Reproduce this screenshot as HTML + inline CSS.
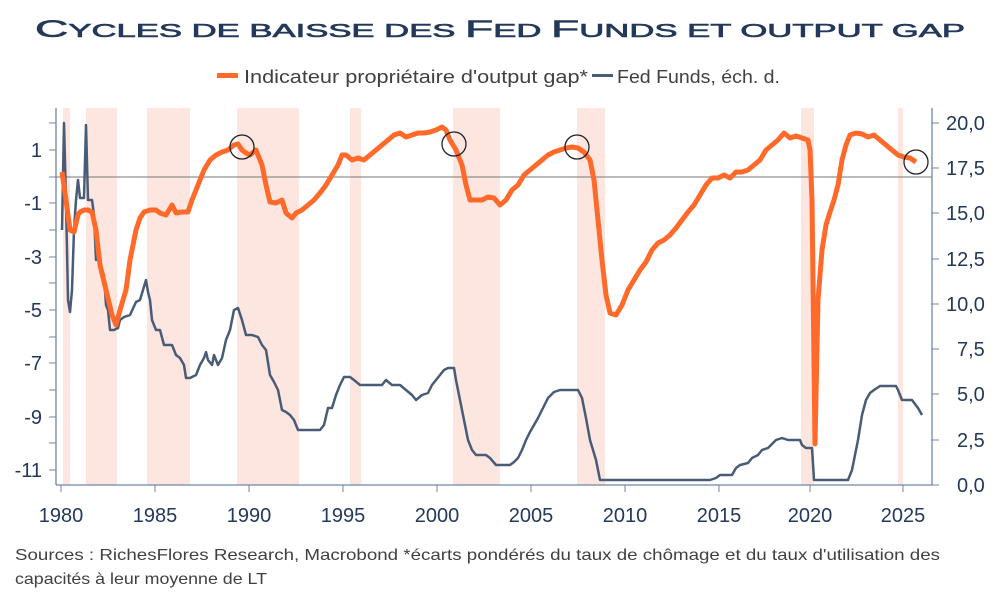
<!DOCTYPE html>
<html><head><meta charset="utf-8"><style>
html,body{margin:0;padding:0;background:#fff;}
svg{display:block;font-family:"Liberation Sans",sans-serif;}
</style></head><body>
<svg width="1000" height="600" viewBox="0 0 1000 600" xmlns="http://www.w3.org/2000/svg">
<text x="35" y="37" fill="#23395b" stroke="#23395b" stroke-width="0.6" textLength="930" lengthAdjust="spacingAndGlyphs"><tspan font-size="24">C</tspan><tspan font-size="18">YCLES DE BAISSE DES </tspan><tspan font-size="24">F</tspan><tspan font-size="18">ED </tspan><tspan font-size="24">F</tspan><tspan font-size="18">UNDS ET OUTPUT GAP</tspan></text>
<rect x="217" y="73" width="21" height="5" fill="#ff6a2b"/>
<text x="244" y="83" font-size="18" fill="#404040" textLength="344" lengthAdjust="spacingAndGlyphs">Indicateur propriétaire d'output gap*</text>
<rect x="592" y="74" width="21" height="3" fill="#485c78"/>
<text x="617" y="83" font-size="18" fill="#404040" textLength="163" lengthAdjust="spacingAndGlyphs">Fed Funds, éch. d.</text>
<g fill="#fde6df">
<rect x="63" y="108" width="7" height="377"/>
<rect x="86" y="108" width="31" height="377"/>
<rect x="147" y="108" width="43" height="377"/>
<rect x="237" y="108" width="62" height="377"/>
<rect x="350" y="108" width="11" height="377"/>
<rect x="453" y="108" width="47" height="377"/>
<rect x="577" y="108" width="28" height="377"/>
<rect x="801" y="108" width="13" height="377"/>
<rect x="898" y="108" width="5" height="377"/>
</g>
<line x1="56" y1="177" x2="932" y2="177" stroke="#777" stroke-width="1"/>
<g stroke="#6f86a8" stroke-width="1.3" fill="none">
<line x1="56" y1="108" x2="56" y2="485"/>
<line x1="932" y1="108" x2="932" y2="485"/>
<line x1="56" y1="485" x2="932" y2="485"/>
</g>
<g stroke="#6f86a8" stroke-width="1">
<line x1="49" y1="123" x2="56" y2="123"/><line x1="49" y1="150" x2="56" y2="150"/><line x1="49" y1="177" x2="56" y2="177"/><line x1="49" y1="203" x2="56" y2="203"/><line x1="49" y1="230" x2="56" y2="230"/><line x1="49" y1="257" x2="56" y2="257"/><line x1="49" y1="283" x2="56" y2="283"/><line x1="49" y1="310" x2="56" y2="310"/><line x1="49" y1="337" x2="56" y2="337"/><line x1="49" y1="363" x2="56" y2="363"/><line x1="49" y1="390" x2="56" y2="390"/><line x1="49" y1="417" x2="56" y2="417"/><line x1="49" y1="443" x2="56" y2="443"/><line x1="49" y1="470" x2="56" y2="470"/>
<line x1="932" y1="123" x2="939" y2="123"/><line x1="932" y1="168" x2="939" y2="168"/><line x1="932" y1="213" x2="939" y2="213"/><line x1="932" y1="259" x2="939" y2="259"/><line x1="932" y1="304" x2="939" y2="304"/><line x1="932" y1="349" x2="939" y2="349"/><line x1="932" y1="394" x2="939" y2="394"/><line x1="932" y1="440" x2="939" y2="440"/><line x1="932" y1="485" x2="939" y2="485"/>
<line x1="61" y1="485" x2="61" y2="492"/><line x1="155" y1="485" x2="155" y2="492"/><line x1="249" y1="485" x2="249" y2="492"/><line x1="343" y1="485" x2="343" y2="492"/><line x1="437" y1="485" x2="437" y2="492"/><line x1="531" y1="485" x2="531" y2="492"/><line x1="625" y1="485" x2="625" y2="492"/><line x1="719" y1="485" x2="719" y2="492"/><line x1="810" y1="485" x2="810" y2="492"/><line x1="903" y1="485" x2="903" y2="492"/>
</g>
<g font-size="20" fill="#23395b" text-anchor="end">
<text x="42" y="157">1</text><text x="42" y="210">-1</text><text x="42" y="264">-3</text><text x="42" y="317">-5</text><text x="42" y="370">-7</text><text x="42" y="424">-9</text><text x="42" y="477">-11</text>
</g>
<g font-size="20" fill="#23395b" text-anchor="start">
<text x="946" y="130">20,0</text><text x="946" y="175">17,5</text><text x="946" y="220">15,0</text><text x="946" y="266">12,5</text><text x="946" y="311">10,0</text><text x="957" y="356">7,5</text><text x="957" y="401">5,0</text><text x="957" y="447">2,5</text><text x="957" y="492">0,0</text>
</g>
<g font-size="20" fill="#23395b" text-anchor="middle">
<text x="61" y="522">1980</text><text x="155" y="522">1985</text><text x="249" y="522">1990</text><text x="343" y="522">1995</text><text x="437" y="522">2000</text><text x="531" y="522">2005</text><text x="625" y="522">2010</text><text x="719" y="522">2015</text><text x="810" y="522">2020</text><text x="903" y="522">2025</text>
</g>
<polyline fill="none" stroke="#485c78" stroke-width="2.5" stroke-linejoin="round" points="62,230 64,123 66,200 68,300 70,312 72,290 74,230 76,200 78,180 80,198 84,198 86,125 88,200 92,200 94,215 96,260 98,250 100,265 104,275 106,305 108,310 110,330 114,330 118,328 120,320 124,317 130,315 136,302 140,300 146,280 148,292 150,300 152,320 156,330 160,330 164,345 168,345 172,345 176,355 180,358 184,365 186,378 190,378 196,375 200,365 204,358 206,352 208,360 212,365 214,355 218,365 222,358 226,340 230,330 234,310 238,308 242,320 246,335 252,335 258,337 262,345 266,350 270,375 274,382 278,390 282,410 286,412 290,415 294,420 298,430 304,430 312,430 320,430 324,425 328,408 332,408 336,395 340,385 344,377 350,377 354,380 360,385 366,385 372,385 378,385 382,385 386,380 392,385 400,385 406,390 412,395 416,400 422,395 428,393 432,385 436,380 440,375 444,370 448,368 454,368 456,380 460,400 464,420 468,440 472,450 476,455 482,455 486,455 490,458 496,465 504,465 510,465 514,462 518,458 522,450 526,440 530,432 534,425 538,418 542,410 548,398 554,392 560,390 566,390 574,390 578,390 582,398 586,418 590,440 596,460 600,480 604,480 710,480 716,478 720,475 732,475 736,468 740,465 748,463 752,458 758,455 762,450 768,448 772,444 776,440 782,438 788,440 792,440 800,440 802,445 806,448 812,448 814,480 848,480 852,470 856,450 858,440 862,415 866,400 870,393 874,390 880,386 890,386 896,386 898,390 902,400 912,400 918,408 922,415"/>
<polyline fill="none" stroke="#ff6a2b" stroke-width="5" stroke-linejoin="round" points="62,172 66,200 70,230 74,232 78,215 80,212 84,210 88,210 92,212 96,230 100,265 106,290 112,315 116,325 120,310 126,290 130,260 136,230 140,218 144,212 150,210 156,210 160,213 166,215 172,205 176,213 182,212 188,212 192,200 198,185 204,170 210,160 216,155 222,152 228,150 234,145 238,144 242,150 246,153 250,155 256,150 262,165 266,185 270,202 276,203 282,200 286,213 292,218 296,213 302,210 308,205 314,200 320,193 326,185 332,175 338,165 342,155 346,155 352,160 358,158 364,160 370,155 376,150 382,145 388,140 394,135 400,133 406,137 412,135 418,133 424,133 430,132 436,130 442,127 446,130 450,140 456,150 462,165 466,185 470,200 476,200 482,200 488,197 494,198 500,205 506,200 512,190 518,185 524,175 530,170 536,165 542,160 548,155 554,152 560,150 566,148 572,147 578,148 584,152 590,160 594,180 598,220 602,260 606,295 610,313 616,315 622,305 628,290 634,280 640,270 646,262 652,250 658,243 664,240 670,235 676,228 682,220 688,212 694,205 700,195 706,185 712,178 718,178 724,175 730,178 736,172 742,172 748,170 754,165 760,160 766,150 772,145 778,140 784,133 790,138 796,136 802,138 808,140 810,150 812,200 815,444 818,300 822,250 826,225 830,212 834,200 838,185 842,160 846,145 850,135 856,133 862,134 868,137 874,135 880,140 886,145 892,150 898,155 904,157 910,158 916,162"/>
<g fill="none" stroke="#222" stroke-width="1.3">
<circle cx="242" cy="147" r="12"/><circle cx="454" cy="144" r="12"/><circle cx="577" cy="147" r="12"/><circle cx="916" cy="162" r="12"/>
</g>
<text x="15" y="560" font-size="16" fill="#404040" textLength="925" lengthAdjust="spacingAndGlyphs">Sources : RichesFlores Research, Macrobond *écarts pondérés du taux de chômage et du taux d'utilisation des</text>
<text x="15" y="584" font-size="16" fill="#404040" textLength="252" lengthAdjust="spacingAndGlyphs">capacités à leur moyenne de LT</text>
</svg>
</body></html>
